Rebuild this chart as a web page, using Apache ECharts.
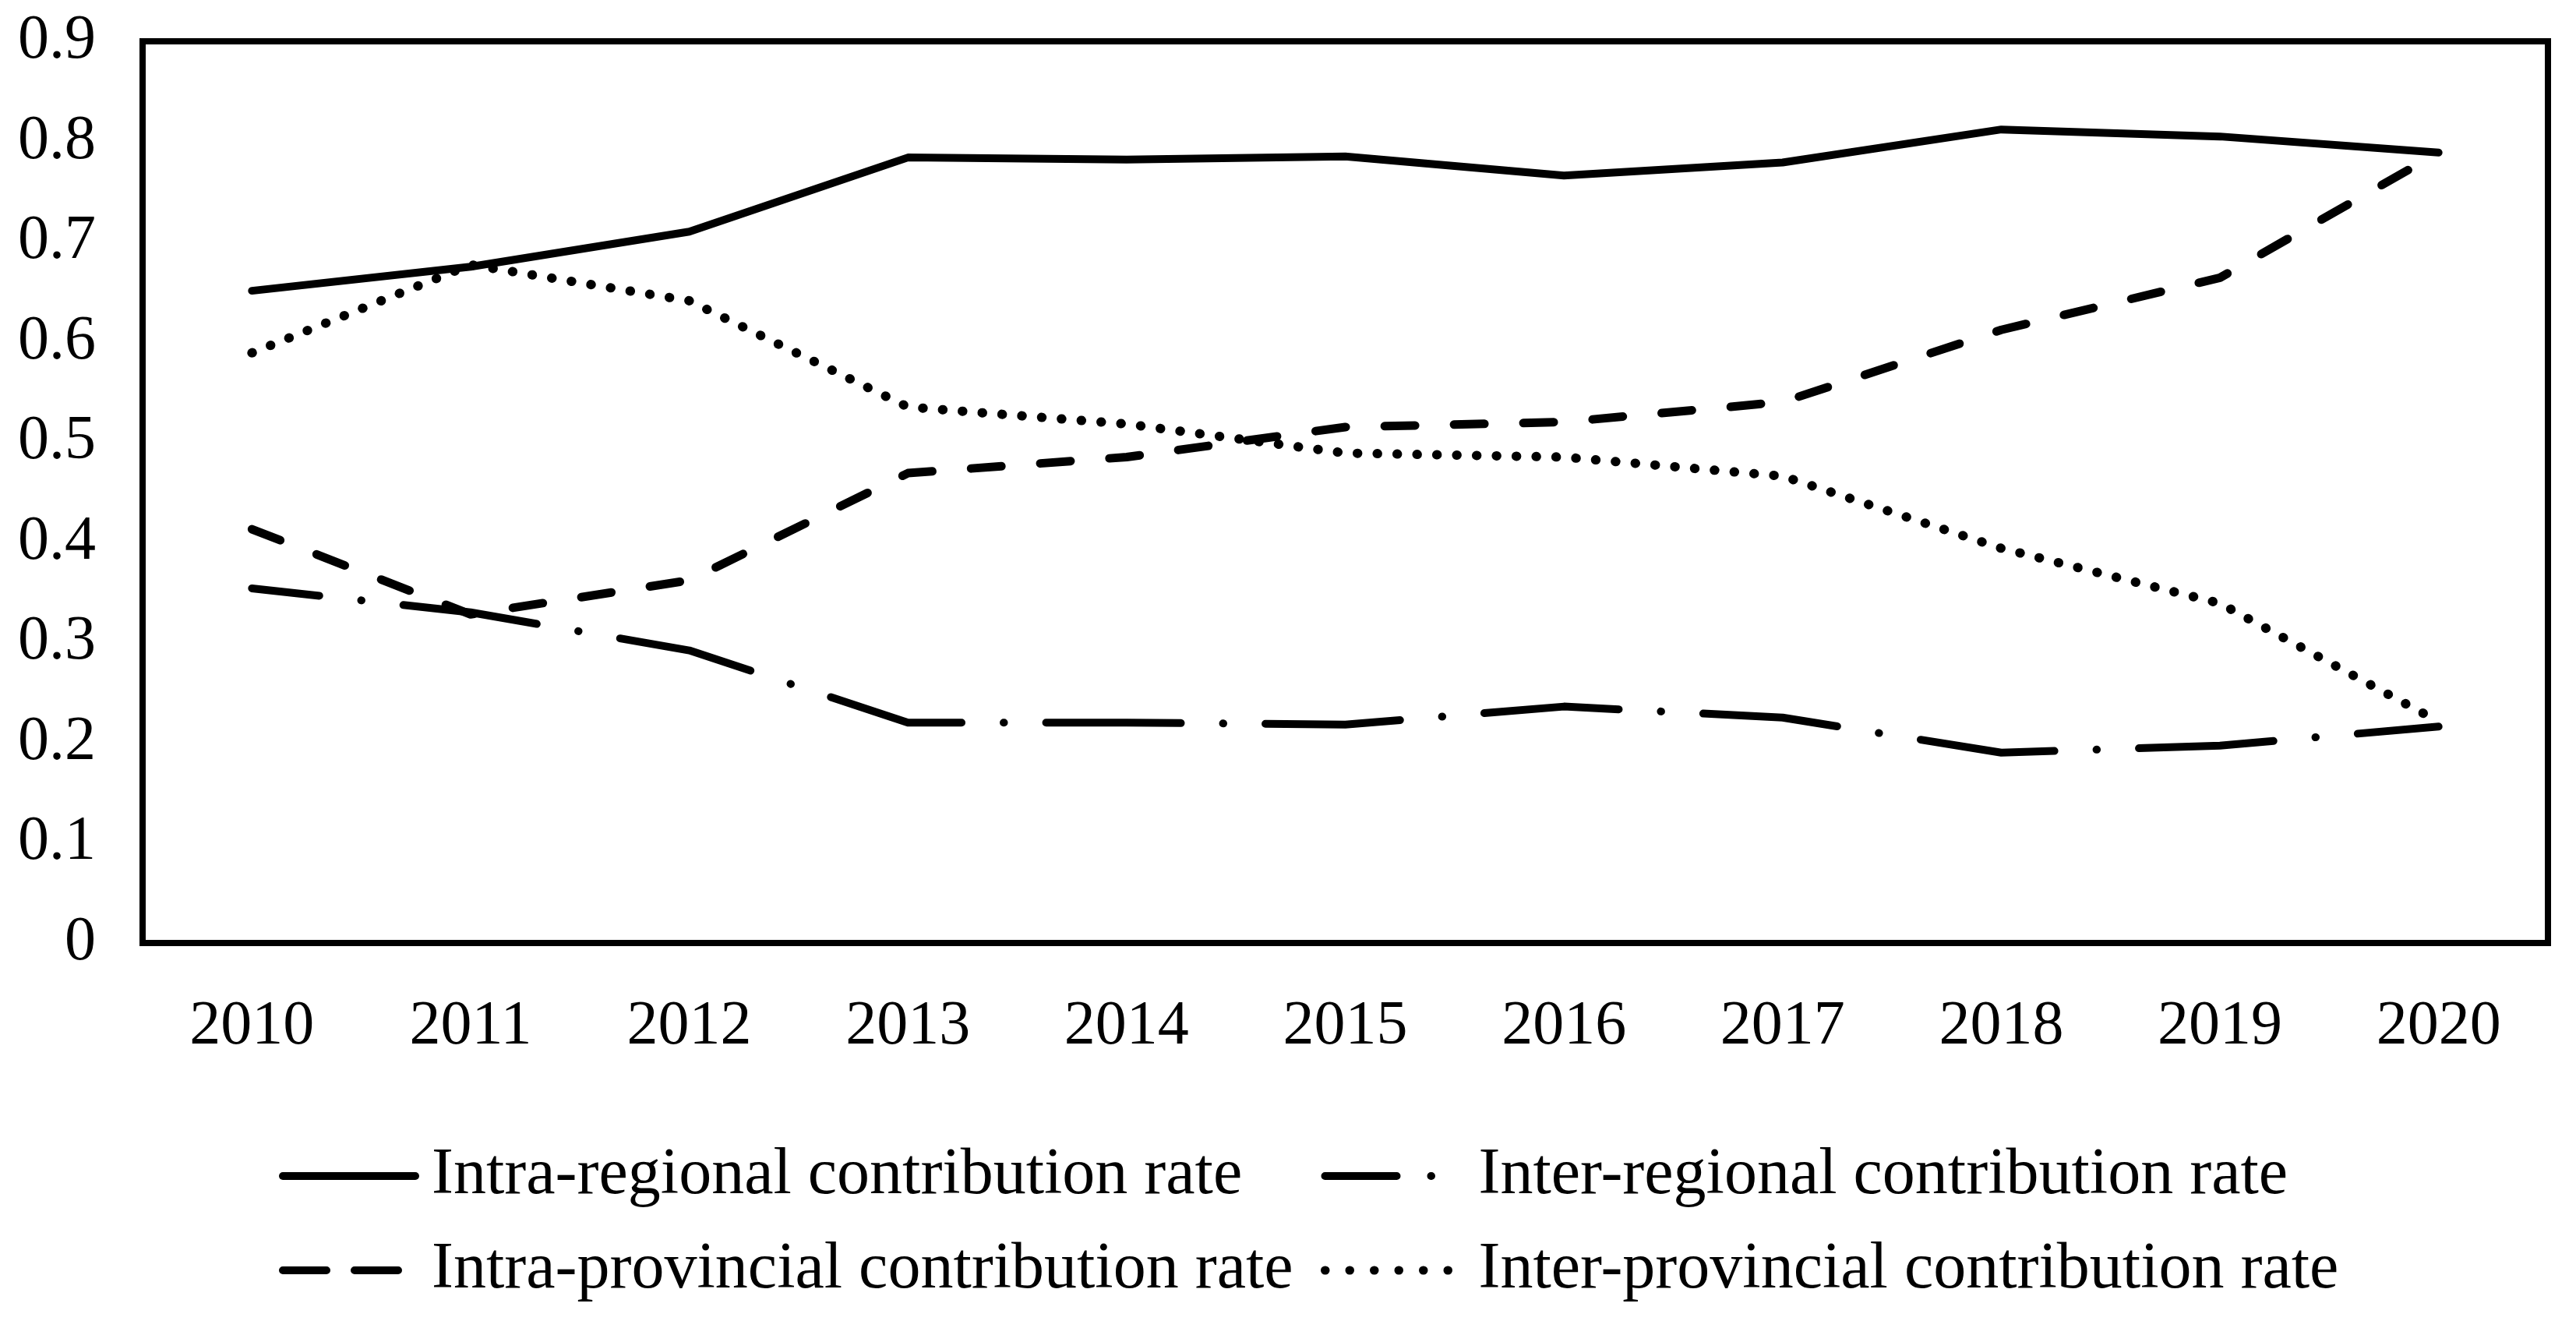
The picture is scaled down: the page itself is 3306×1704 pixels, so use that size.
<!DOCTYPE html>
<html>
<head>
<meta charset="utf-8">
<script src="https://cdn.jsdelivr.net/npm/echarts@6/dist/echarts.min.js"></script>
<style>
  html, body { margin: 0; padding: 0; background: #fff; }
  #chart { width: 3306px; height: 1704px; }
</style>
</head>
<body>
<div id="chart"></div>
<script>
// data
const years = ['2010', '2011', '2012', '2013', '2014', '2015', '2016', '2017', '2018', '2019', '2020'];
const intraRegional = [0.651, 0.675, 0.710, 0.784, 0.782, 0.785, 0.766, 0.779, 0.812, 0.805, 0.789];
const interRegional = [0.354, 0.330, 0.292, 0.220, 0.220, 0.218, 0.236, 0.225, 0.190, 0.197, 0.216];
const intraProvincial = [0.413, 0.328, 0.362, 0.469, 0.485, 0.515, 0.520, 0.540, 0.612, 0.664, 0.789];
const interProvincial = [0.589, 0.677, 0.641, 0.535, 0.518, 0.489, 0.485, 0.466, 0.394, 0.339, 0.221];

const FONT = '"Liberation Serif", "Times New Roman", serif';
const LW = 10;

const chart = echarts.init(document.getElementById('chart'));

function lineSeries(name, data, dash, width, offset) {
  return {
    name: name,
    type: 'line',
    data: data,
    symbol: 'none',
    smooth: false,
    lineStyle: {
      color: '#000', width: width, type: dash, dashOffset: offset || 0,
      cap: 'round', join: 'round'
    },
    itemStyle: { color: '#000' }
  };
}

// legend entries: only the line, no marker
function legendItem(name, dash, width) {
  return {
    name: name,
    itemStyle: { color: 'transparent', opacity: 0, borderWidth: 0 },
    lineStyle: { color: '#000', width: width, type: dash, dashOffset: 0, cap: 'round' }
  };
}

const legendText = {
  fontFamily: FONT,
  fontSize: 84,
  color: '#000',
  lineHeight: 90
};

chart.setOption({
  backgroundColor: '#fff',
  animation: false,
  grid: {
    left: 183,
    right: 36,
    top: 53,
    bottom: 494,
    show: true,
    borderColor: '#000',
    borderWidth: 8,
    backgroundColor: 'transparent'
  },
  xAxis: {
    type: 'category',
    data: years,
    boundaryGap: true,
    axisLine: { show: false },
    axisTick: { show: false },
    splitLine: { show: false },
    axisLabel: { fontFamily: FONT, fontSize: 80, color: '#000', margin: 68 }
  },
  yAxis: {
    type: 'value',
    min: 0,
    max: 0.9,
    interval: 0.1,
    axisLine: { show: false },
    axisTick: { show: false },
    splitLine: { show: false },
    axisLabel: { fontFamily: FONT, fontSize: 80, color: '#000', margin: 60 }
  },
  legend: [
    {
      orient: 'vertical',
      left: 358,
      top: 1464,
      padding: 0,
      itemWidth: 170,
      itemHeight: 40,
      itemGap: 31,
      textStyle: Object.assign({ padding: [0, 0, 0, 16] }, legendText),
      data: [
        legendItem('Intra-regional contribution rate', 'solid', LW),
        legendItem('Intra-provincial contribution rate', [56, 36], LW)
      ]
    },
    {
      orient: 'vertical',
      left: 1695,
      top: 1464,
      padding: 0,
      itemWidth: 170,
      itemHeight: 40,
      itemGap: 31,
      textStyle: Object.assign({ padding: [0, 0, 0, 22] }, legendText),
      data: [
        legendItem('Inter-regional contribution rate', [92, 44, 0.5, 120], LW),
        legendItem('Inter-provincial contribution rate', [0.5, 31], 11)
      ]
    }
  ],
  series: [
    lineSeries('Intra-regional contribution rate', intraRegional, 'solid', LW),
    lineSeries('Inter-regional contribution rate', interRegional, [173, 54, 0.5, 54], LW, 86),
    lineSeries('Intra-provincial contribution rate', intraProvincial, [39, 50], 11),
    lineSeries('Inter-provincial contribution rate', interProvincial, [0.5, 25], 12)
  ]
});

window.addEventListener('resize', function() {
  chart.resize();
});
</script>
</body>
</html>
